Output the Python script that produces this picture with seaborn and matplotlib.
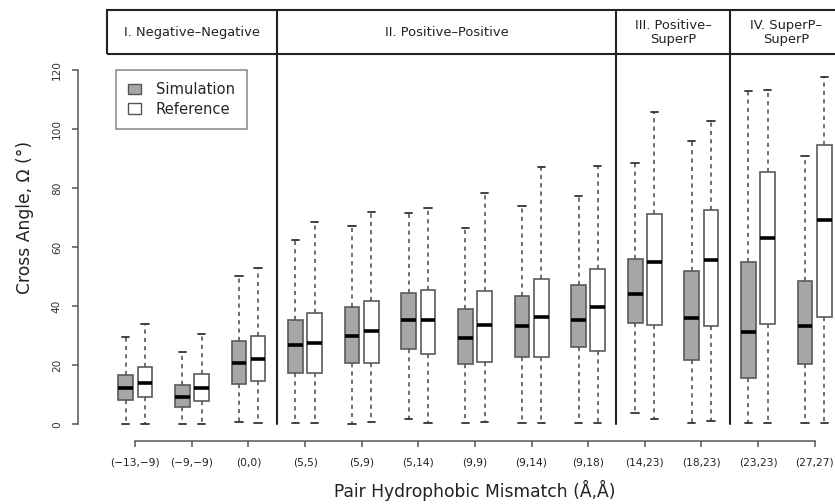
import numpy as np
import pandas as pd
import matplotlib
matplotlib.use("Agg")
import matplotlib.pyplot as plt
import seaborn as sns
from matplotlib.patches import Patch, Rectangle

# Mismatch pairs (x categories)
pairs = ["(−13,−9)", "(−9,−9)", "(0,0)", "(5,5)", "(5,9)", "(5,14)", "(9,9)",
         "(9,14)", "(9,18)", "(14,23)", "(18,23)", "(23,23)", "(27,27)"]
series = ["Simulation", "Reference"]

# five-number summaries (deg)
sim_low = [0.2, 0.2, 0.9, 0.4, 0.2, 1.8, 0.6, 0.4, 0.4, 3.8, 0.4, 0.4, 0.4]
sim_q1 = [8.2, 5.9, 13.8, 17.3, 20.7, 25.5, 20.6, 22.9, 26.1, 34.2, 21.9, 15.6, 20.6]
sim_med = [12.5, 9.4, 20.9, 26.9, 29.9, 35.4, 29.4, 33.2, 35.3, 44.3, 35.9, 31.4, 33.4]
sim_q3 = [16.7, 13.3, 28.3, 35.4, 39.8, 44.4, 39.0, 43.5, 47.1, 56.0, 51.9, 54.9, 48.6]
sim_high = [29.7, 24.4, 50.3, 62.4, 67.2, 71.7, 66.6, 74.0, 77.4, 88.4, 95.8, 112.9, 90.8]

ref_low = [0.2, 0.2, 0.4, 0.4, 0.8, 0.6, 1.0, 0.4, 0.4, 1.9, 1.3, 0.4, 0.4]
ref_q1 = [9.4, 8.1, 14.7, 17.3, 20.9, 23.9, 21.2, 22.8, 24.9, 33.8, 33.4, 33.9, 36.4]
ref_med = [13.9, 12.4, 22.2, 27.7, 31.7, 35.3, 33.6, 36.5, 39.7, 54.9, 55.7, 63.2, 69.2]
ref_q3 = [19.4, 17.1, 30.0, 37.6, 41.7, 45.5, 45.1, 49.2, 52.5, 71.2, 72.5, 85.6, 94.5]
ref_high = [33.9, 30.5, 53.1, 68.4, 71.9, 73.3, 78.2, 87.2, 87.6, 105.7, 102.7, 113.3, 117.7]

# group headers and the pair index where each group ends
groups = ["I. Negative–Negative", "II. Positive–Positive",
          "III. Positive–\nSuperP", "IV. SuperP–\nSuperP"]
group_ends = [2, 8, 10, 12]

rows = []
stats = {"Simulation": [sim_low, sim_q1, sim_med, sim_q3, sim_high],
         "Reference": [ref_low, ref_q1, ref_med, ref_q3, ref_high]}
for s in series:
    for i, p in enumerate(pairs):
        for arr in stats[s]:
            rows.append({"pair": p, "source": s, "angle": arr[i]})
df = pd.DataFrame(rows)

sns.set_style("white")
plt.rcParams["font.family"] = ["DejaVu Sans"]

fig = plt.figure(figsize=(8.35, 5.04), dpi=100)
ax = fig.add_axes([0.1281, 0.1343, 0.8814, 0.8458])

fill = {"Simulation": "#a6a6a6", "Reference": "white"}
sns.boxplot(data=df, x="pair", y="angle", hue="source", order=pairs,
            hue_order=series, palette=fill, whis=(0, 100), showfliers=False,
            width=0.68, gap=0.235, linecolor="#5a5a5a", linewidth=1.2,
            whiskerprops=dict(linestyle=(0, (2.5, 2.5)), color="#555555"),
            capprops=dict(color="#333333", linewidth=1.3),
            medianprops=dict(color="black", linewidth=2.6),
            legend=False, ax=ax)

ax.set_xlim(-0.5, 12.5)
ax.set_ylim(-4, 140.3)

# R-style detached axes
for side in ["top", "right"]:
    ax.spines[side].set_visible(False)
ax.spines["left"].set_position(("outward", 21))
ax.spines["left"].set_bounds(0, 120)
ax.spines["bottom"].set_position(("outward", 3.4))
ax.spines["bottom"].set_bounds(0, 12)
for side in ["left", "bottom"]:
    ax.spines[side].set_color("#555555")
    ax.spines[side].set_linewidth(1.1)

ax.set_yticks(range(0, 121, 20))
ax.tick_params(axis="y", direction="out", length=4.5, width=1.1, color="#555555",
               pad=7, labelsize=7.6, labelcolor="#333333", left=True)
for t in ax.get_yticklabels():
    t.set_rotation(90)
    t.set_va("center")
ax.tick_params(axis="x", direction="out", length=4.5, width=1.1, color="#555555",
               pad=7, labelsize=7.7, labelcolor="#222222", bottom=True)

ax.set_xlabel("Pair Hydrophobic Mismatch (Å,Å)", fontsize=12.3, color="#222222",
              va="center")
ax.xaxis.set_label_coords(0.5, -0.126)
ax.set_ylabel("Cross Angle, Ω (°)", fontsize=12.3, color="#222222",
              ha="center", va="center")
ax.yaxis.set_label_coords(-0.1114, 0.513)

# header band and group dividers
head_lo, head_hi = 125.4, 140.3
ax.add_patch(Rectangle((-0.5, head_lo), 13, head_hi - head_lo, fill=False,
                       edgecolor="#222222", linewidth=1.5, clip_on=False))
start = -0.5
for name, end in zip(groups, group_ends):
    stop = end + 0.5
    if end < len(pairs) - 1:
        ax.plot([stop, stop], [0, head_hi], color="#222222", linewidth=1.5,
                clip_on=False)
    ax.text((start + stop) / 2, (head_lo + head_hi) / 2, name, ha="center",
            va="center", fontsize=9.4, color="#222222", linespacing=1.1)
    start = stop

handles = [Patch(facecolor=fill[s], edgecolor="#555555", linewidth=1.0, label=s)
           for s in series]
leg = ax.legend(handles=handles, loc="upper left", bbox_to_anchor=(0.0122, 0.86),
                borderaxespad=0, fontsize=10.6, frameon=True, fancybox=False,
                handlelength=0.85, handleheight=0.75, handletextpad=1.0,
                borderpad=0.85, labelspacing=0.3)
leg.get_frame().set_edgecolor("#666666")
leg.get_frame().set_linewidth(1.1)

fig.savefig("out.png", dpi=100)
